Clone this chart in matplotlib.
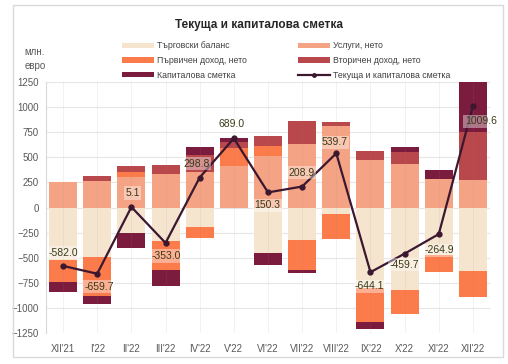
import numpy as np
import matplotlib
matplotlib.use("Agg")
import matplotlib.pyplot as plt
from matplotlib.patches import Patch, Rectangle
from matplotlib.lines import Line2D

plt.rcParams["font.family"] = ["Liberation Sans", "DejaVu Sans"]

months = ["XII'21", "I'22", "II'22", "III'22", "IV'22", "V'22", "VI'22",
          "VII'22", "VIII'22", "IX'22", "X'22", "XI'22", "XII'22"]
trade = [-525, -496, -250, -330, -197, -5, -450, -323, -63, -800, -817, -473, -630]
services = [255, 267, 303, 333, 357, 417, 510, 636, 815, 477, 437, 283, 277]
primary = [-219, -390, 53, -293, -103, 177, 107, -300, -250, -345, -247, -167, -260]
secondary = [0, 43, 53, 93, 165, 57, 100, 227, 35, 90, 113, 0, 473]
capital = [-95, -80, -155, -157, 77, 43, -123, -27, 0, -66, 50, 87, 1150]
total = [-582.0, -659.7, 5.1, -353.0, 298.8, 689.0, 150.3, 208.9, 539.7,
         -644.1, -459.7, -264.9, 1009.6]

series_names = ["Търговски баланс", "Услуги, нето", "Първичен доход, нето",
                "Вторичен доход, нето", "Капиталова сметка"]
line_name = "Текуща и капиталова сметка"
colors = ["#F5E5CF", "#F4A484", "#FB7B4A", "#B8484C", "#7B1C3E"]
line_color = "#3B1730"

# label offsets in pixels (dx, dy), dy>0 = above
label_off = [(0, 13), (2, -13), (1, 14), (1, -13), (-3, 14), (-2, 14), (-1, -13),
             (-1, 14), (-2, 11), (-1, -14), (0, -11), (1, -16), (8, -15)]

fig = plt.figure(figsize=(5.08, 3.64), dpi=100)
fig.patches.append(Rectangle((13 / 508, 1 - 357 / 364), 490 / 508, 352 / 364,
                             transform=fig.transFigure, fill=False,
                             edgecolor="#D9D9D9", linewidth=1))
ax = fig.add_axes([46 / 508, 1 - 333 / 364, 444 / 508, 251 / 364])

x = np.arange(len(months))
pos_base = np.zeros(len(months))
neg_base = np.zeros(len(months))
bar_handles = []
for vals, col, name in zip([trade, services, primary, secondary, capital],
                           colors, series_names):
    v = np.array(vals, dtype=float)
    bottom = np.where(v >= 0, pos_base, neg_base)
    ax.bar(x, v, 0.82, bottom=bottom, color=col, zorder=2)
    pos_base += np.where(v >= 0, v, 0)
    neg_base += np.where(v < 0, v, 0)
    bar_handles.append(Patch(facecolor=col, label=name))

# faint vertical lines through the bars
for xi in x:
    ax.axvline(xi, color="#888888", alpha=0.12, linewidth=0.6, zorder=3)

ax.plot(x, total, "-", color=line_color, linewidth=1.6, marker="o",
        markersize=3.5, zorder=4)

for xi, val, (dx, dy) in zip(x, total, label_off):
    ax.annotate(f"{val:.1f}", (xi, val), xytext=(dx * 0.72, dy * 0.72),
                textcoords="offset points", ha="center", va="center",
                fontsize=7.5, color="#3A3A18", zorder=5,
                bbox=dict(boxstyle="square,pad=0.15", facecolor="white",
                          edgecolor="none", alpha=0.4))

ax.set_xlim(-0.5, len(months) - 0.5)
ax.set_ylim(-1250, 1250)
ax.set_yticks(np.arange(-1250, 1251, 250))
ax.set_xticks(x)
ax.set_xticklabels(months)
ax.tick_params(axis="both", length=0, labelsize=7, colors="#595959")
ax.tick_params(axis="x", pad=8)
ax.tick_params(axis="y", pad=5)
ax.grid(True, axis="y", color="#E6E6E6", linewidth=0.8, zorder=0)
ax.set_axisbelow(True)
for s in ["top", "right", "bottom"]:
    ax.spines[s].set_visible(False)
ax.spines["left"].set_color("#D9D9D9")

fig.text(35 / 508, 1 - 59 / 364, "млн.\nевро", ha="center", va="center",
         fontsize=7, color="#595959", linespacing=1.4)
fig.text(259 / 508, 1 - 25 / 364, "Текуща и капиталова сметка", ha="center",
         va="center", fontsize=8.5, fontweight="bold", color="#262626")

line_handle = Line2D([], [], color=line_color, linewidth=1.6, marker="o",
                     markersize=2.5, label=line_name)
leg_kw = dict(frameon=False, fontsize=6.3, handlelength=3.6, handleheight=0.6,
              handletextpad=0.35, labelspacing=0.65, borderpad=0,
              labelcolor="#404040")
fig.legend(handles=[bar_handles[0], bar_handles[2], bar_handles[4]],
           loc="upper left", bbox_to_anchor=(118 / 508, 1 - 37 / 364), **leg_kw)
fig.legend(handles=[bar_handles[1], bar_handles[3], line_handle],
           loc="upper left", bbox_to_anchor=(294 / 508, 1 - 37 / 364), **leg_kw)

fig.savefig("out.png", dpi=100)
